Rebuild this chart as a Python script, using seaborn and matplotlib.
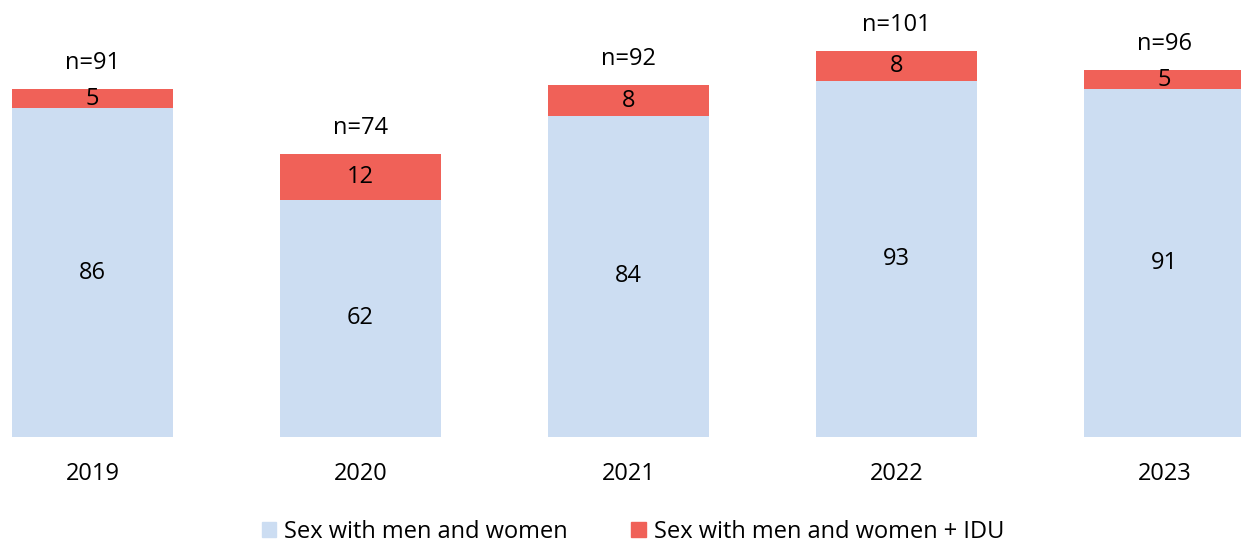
import pandas as pd
import seaborn as sns
import matplotlib.pyplot as plt
from matplotlib.patches import Patch

# data
years = ["2019", "2020", "2021", "2022", "2023"]
sex_mw = [86, 62, 84, 93, 91]
sex_mw_idu = [5, 12, 8, 8, 5]
totals = [91, 74, 92, 101, 96]

blue = "#CCDDF2"
red = "#F06158"

sns.set_style("white")
plt.rcParams["font.family"] = ["Open Sans", "DejaVu Sans"]
plt.rcParams["text.color"] = "black"
plt.rcParams["xtick.color"] = "black"

df = pd.DataFrame({"year": years, "mw": sex_mw, "idu": sex_mw_idu, "n": totals})

fig = plt.figure(figsize=(12.41, 5.44), dpi=100)
ax = fig.add_axes([12 / 1241, 107 / 544, 1233 / 1241, 437 / 544])

sns.barplot(data=df, x="year", y="mw", color=blue, width=0.6, ax=ax,
            saturation=1, linewidth=0)
sns.barplot(data=df, x="year", y="idu", color=red, width=0.6, ax=ax,
            saturation=1, linewidth=0, bottom=df["mw"])

fs = 17
for i, row in df.iterrows():
    ax.text(i, row["mw"] / 2, str(row["mw"]), ha="center", va="center", fontsize=fs)
    ax.text(i, row["mw"] + row["idu"] / 2, str(row["idu"]), ha="center", va="center",
            fontsize=fs)
    ax.text(i, row["n"] + 6.8, f"n={row['n']}", ha="center", va="center", fontsize=fs)

ax.set_xlim(-0.3, 4.3)
ax.set_ylim(0, 114.3)
ax.set_xlabel("")
ax.set_ylabel("")
ax.set_yticks([])
ax.tick_params(axis="x", length=0, labelsize=fs, pad=18)
sns.despine(ax=ax, left=True, bottom=True)

handles = [Patch(color=blue, label="Sex with men and women"),
           Patch(color=red, label="Sex with men and women + IDU")]
fig.legend(handles=handles, loc="center", bbox_to_anchor=(0.51, 0.022), ncol=2,
           frameon=False, fontsize=fs, handlelength=0.6, handleheight=0.6,
           handletextpad=0.35, columnspacing=2.7)

fig.savefig("out.png", dpi=100)
